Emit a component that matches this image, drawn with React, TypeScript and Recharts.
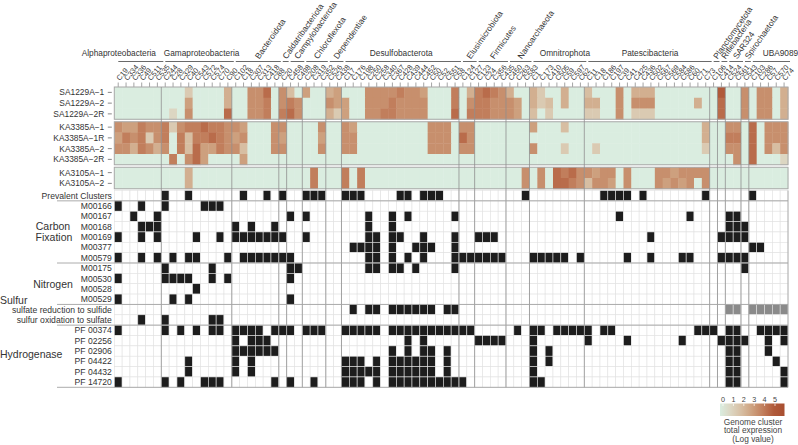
import { ScatterChart, Scatter, XAxis, YAxis } from 'recharts';

// ---- data ----
const clusters = [
  'C19', 'C334', 'C336', 'C49', 'C511', 'C535',
  'C244', 'C28', 'C329', 'C40', 'C543', 'C572', 'C574', 'C70', 'C90',
  'C102', 'C18', 'C307', 'C313', 'C418', 'C88',
  'C20',
  'C458', 'C498',
  'C208', 'C319', 'C352',
  'C526', 'C438',
  'C17', 'C176', 'C198', 'C250', 'C258', 'C340', 'C367', 'C428', 'C439', 'C444', 'C452', 'C50', 'C52', 'C551', 'C58',
  'C124', 'C127',
  'C123', 'C24', 'C356', 'C435',
  'C450', 'C263', 'C583',
  'C1', 'C173', 'C410', 'C505', 'C59', 'C597', 'C62',
  'C11', 'C18', 'C186', 'C197', 'C39', 'C41', 'C425', 'C436', 'C502', 'C567', 'C569', 'C584', 'C586', 'C60', 'C71', 'C73',
  'C106', 'C414', 'C524', 'C561', 'C543', 'C103', 'C286', 'C57', 'C570', 'C74',
];

const phyla = [
  'Alphaproteobacteria', 'Gamaproteobacteria', 'Bacteroidota', 'Caldatribacteriota', 'Campylobacterota',
  'Chloroflexota', 'Dependentiae', 'Desulfobacterota', 'Elusimicrobiota', 'Firmicutes', 'Nanoarchaeota',
  'Omnitrophota', 'Patescibacteria', 'Planctomycetota', 'Riflebacteria', 'SAR324', 'Spirochaetota', 'UBA9089',
];
const phylumSizes = [6, 9, 6, 1, 2, 3, 2, 15, 2, 4, 3, 7, 16, 1, 1, 2, 1, 5];

const heatRows = ['SA1229A−1', 'SA1229A−2', 'SA1229A−2R', 'KA3385A−1', 'KA3385A−1R', 'KA3385A−2', 'KA3385A−2R', 'KA3105A−1', 'KA3105A−2'];
const heatBlocks = [3, 4, 2];

// log expression, one value per cluster
const sa1229a1 = [0,0,0,0,0,0, 0,0,0,1.5,0,0,0,0,2.5, 0,0,3.5,3.5,4.5,0, 3.5, 2,0, 3,0,0, 2.5,3, 0,0,0,3.5,3.5,3.5,3.5,4,3.5,3.5,3,0,0,0,4, 0,2.5, 4,4.5,4,3.5, 2.5,0,0, 2.5,1.5,0,0,2.5,0,0, 2,0,0,0,3.5,0,2.5,2.5,2.5,0,0,0,0,0,0,0, 0,5,0,0,3.5, 0,3.5,3.5,0,2.5];
const sa1229a2 = [0,0,0,0,0,0, 0,0,0,3,0,0,0,0,2.5, 0,0,3.5,3.5,4,0, 3.5, 4,3.5, 0,0,0, 3.5,3, 3,0,0,3.5,3.5,3.5,4,3.5,3.5,3.5,3.5,0,0,0,4, 0,3.5, 4,4,3.5,3.5, 3.5,3,0, 2.5,1.5,2,0,2.5,0,0, 2.5,2.5,0,0,3.5,0,3.5,3.5,3.5,0,0,0,0,0,2.5,0, 0,4.5,0,0,3.5, 0,3.5,3.5,0,2.5];
const sa1229a2r = [0,0,0,0,0,0, 0,1,0,3.5,0,0,0,0,4.5, 0,0,3.5,3.5,4,0, 4, 4.5,3.5, 0,0,0, 2.5,1.5, 3,0,0,3.5,3.5,4,4,3.5,3.5,3.5,3.5,0,0,0,4.5, 0,4, 4,4,3.5,3.5, 3.5,3,0, 2,0,1.5,0,0,0,0, 1.5,1.5,0,0,3.5,0,1.5,1.5,1.5,0,0,0,0,0,0,0, 0,4.5,0,0,3.5, 0,3.5,3.5,0,2.5];
const ka3385a1 = [3.5,3,3,4,3.5,3.5, 4,1.5,3.5,4,4,4.5,4,4,3.5, 3.5,3,0,0,0,3.5, 3.5, 0,0, 0,0,3.5, 0,0, 3.5,3,0,0,0,0,0,0,0,0,0,3.5,3.5,3.5,0, 3.5,3.5, 0,0,0,0, 0,0,0, 3,0,0,0,2,0,0, 0,0,0,0,0,0,0,0,0,0,0,0,0,0,0,2.5, 0,0,3.5,3.5,0, 4.5,0,3.5,3.5,3.5];
const ka3385a1r = [3,4,3.5,4,1.5,3.5, 4,0,4,2,4,4,4.5,4,3.5, 3,3.5,0,0,0,3.5, 3, 0,0, 0,0,3, 0,0, 3.5,3.5,0,0,0,0,0,0,0,0,0,3.5,3.5,3.5,0, 4.5,3.5, 0,0,0,0, 0,0,0, 0,0,0,0,0,0,0, 0,0,0,0,0,0,0,0,0,0,0,0,0,0,0,2.5, 0,0,4,4,0, 4.5,0,3.5,3.5,3.5];
const ka3385a2 = [3.5,3.5,2.5,4,3.5,2.5, 3.5,0,4,2,4.5,3,3,4,3.5, 3.5,2,0,0,0,3.5, 3.5, 0,0, 0,0,3.5, 0,0, 3.5,3.5,0,0,0,0,0,0,0,0,0,3.5,3.5,3.5,0, 3.5,3.5, 0,0,0,0, 0,0,0, 3.5,0,0,0,1.5,0,0, 0,1.5,0,0,0,0,0,0,0,0,0,0,0,0,0,1.5, 0,0,3.5,3.5,0, 4.5,0,3.5,2,3.5];
const ka3385a2r = [0,0,0,0,0,0, 0,4,0,3.5,4.5,3,0,0,0, 0,3,0,0,0,0, 0, 0,0, 0,0,0, 0,0, 0,0,0,0,0,0,0,0,0,0,0,0,0,0,0, 0,0, 0,0,0,0, 0,0,0, 0,0,0,0,0,0,0, 0,0,0,0,0,0,0,0,0,0,0,0,0,0,0,0, 0,0,0,3.5,0, 4.5,0,0,0,1];
const ka3105a1 = [0,0,0,0,0,0, 0,0,0,2.5,0,0,0,0,0, 0,0,0,0,0,0, 0, 0,0, 0,4,0, 0,0, 4,0,4,0,0,0,0,0,0,0,0,0,0,0,0, 0,0, 0,0,0,0, 0,0,3.5, 0,3.5,0,4.5,4,4.5,3.5, 3.5,3,3.5,3.5,0,3.5,0,0,0,3.5,3.5,3,3.5,3.5,3.5,3.5, 0,0,0,0,0, 0,0,0,0,0];
const ka3105a2 = [0,0,0,0,0,0, 0,0,0,2.5,0,0,0,0,0, 0,0,0,0,0,0, 0, 0,0, 0,4,0, 0,0, 4,0,4,0,0,0,0,0,0,0,0,0,0,0,0, 0,0, 0,0,0,0, 0,0,3.5, 0,3.5,0,4.5,4.5,4,3.5, 2,3.5,3.5,3,0,3.5,0,0,0,3.5,3,3.5,3,3.5,0,3.5, 0,0,0,0,0, 0,0,0,0,0];
const heatValues = [sa1229a1, sa1229a2, sa1229a2r, ka3385a1, ka3385a1r, ka3385a2, ka3385a2r, ka3105a1, ka3105a2];

const binRows = [
  'Prevalent Clusters', 'M00166', 'M00167', 'M00168', 'M00169', 'M00377', 'M00579',
  'M00175', 'M00530', 'M00528', 'M00529',
  'sulfate reduction to sulfide', 'sulfur oxidation to sulfate',
  'PF 00374', 'PF 02256', 'PF 02906', 'PF 04422', 'PF 04432', 'PF 14720',
];
// clusters carrying each module / gene family (column indices)
const prevalent = [6, 9, 16, 19, 21, 24, 25, 26, 29, 30, 31, 36, 37, 39, 40, 41, 52, 62, 63, 64, 65, 67, 75, 81];
const m00166 = [0, 3, 6, 11, 12, 13];
const m00167 = [2, 5, 22, 24, 32, 35, 37, 43, 64, 73, 78, 79];
const m00168 = [3, 4, 5, 15, 17, 20, 32, 35, 78, 79, 80];
const m00169 = [0, 3, 5, 10, 13, 15, 16, 17, 18, 19, 20, 21, 24, 32, 33, 35, 36, 39, 43, 46, 47, 48, 68, 77, 78, 79, 80];
const m00377 = [30, 31, 32, 33, 35, 38, 39, 40, 43, 81, 82];
const m00579 = [0, 3, 5, 7, 9, 10, 14, 16, 17, 18, 19, 20, 21, 22, 32, 33, 35, 37, 39, 43, 44, 45, 46, 47, 48, 49, 53, 54, 55, 56, 57, 59, 65, 68, 72, 73, 77, 78, 79, 80];
const m00175 = [6, 12, 22, 23, 32, 33, 35, 36, 38, 43, 80];
const m00530 = [0, 6, 7, 8, 9, 12, 14, 22];
const m00528 = [10];
const m00529 = [0, 7, 9, 22];
const sulfRed = [30, 32, 33, 35, 36, 37, 38, 39, 40, 42, 43];
const sulfRedPartial = [78, 79, 81, 82, 83, 84, 85];
const sulfOx = [3, 6, 12, 13];
const pf00374 = [0, 6, 8, 10, 12, 13, 15, 16, 17, 18, 20, 21, 22, 24, 25, 26, 29, 30, 31, 32, 33, 35, 36, 37, 38, 39, 40, 41, 42, 43, 44, 45, 51, 53, 54, 56, 57, 58, 59, 60, 62, 63, 74, 75, 76, 78, 79, 82, 83, 84, 85];
const pf02256 = [15, 17, 18, 19, 37, 39, 46, 47, 48, 49, 53, 60, 65, 72, 77, 78, 79, 80, 83, 85];
const pf02906 = [15, 16, 17, 18, 19, 20, 35, 37, 39, 40, 42, 53, 55, 78, 79, 83];
const pf04422 = [9, 15, 17, 29, 30, 31, 33, 35, 36, 37, 38, 39, 40, 42, 53, 55, 78, 79, 84];
const pf04432 = [9, 15, 17, 29, 30, 31, 32, 33, 35, 36, 37, 38, 39, 40, 42, 53, 78, 79, 85];
const pf14720 = [0, 6, 8, 11, 12, 13, 20, 22, 25, 29, 30, 31, 33, 35, 36, 37, 38, 39, 40, 41, 42, 43, 44, 53, 54, 78, 79, 85];
const binValues = [prevalent, m00166, m00167, m00168, m00169, m00377, m00579, m00175, m00530, m00528, m00529, sulfRed, sulfOx, pf00374, pf02256, pf02906, pf04422, pf04432, pf14720];

const legendTicks = [0, 1, 2, 3, 4, 5];

// ---- layout ----
const W = 798;
const H = 445;
const GRID_L = 114.3;
const GRID_R = 788;
const GRID_T = 87;
const GRID_B = 387.3;
const NCOL = clusters.length;
const CW = (GRID_R - GRID_L) / NCOL;
const HEAT_RH = 10.75;
const HEAT_GAP = 2.5;
const BIN_TOP = 190.5;
const BIN_RH = (GRID_B - BIN_TOP) / binRows.length;
const HEAT_DOMAIN = (GRID_B - GRID_T) / HEAT_RH;
const BIN_DOMAIN = (GRID_B - GRID_T) / BIN_RH;
const BIN_START = (BIN_TOP - GRID_T) / BIN_RH;
const FONT = '"Liberation Sans", Arial, Helvetica, sans-serif';
const TXT = '#333';

const blockOf = (r: number) => {
  let acc = 0;
  for (let b = 0; b < heatBlocks.length; b++) {
    acc += heatBlocks[b];
    if (r < acc) return b;
  }
  return heatBlocks.length - 1;
};
const heatTop = (r: number) => r + (blockOf(r) * HEAT_GAP) / HEAT_RH;

const STOPS: [number, number[]][] = [
  [0, [218, 237, 224]],
  [1, [220, 214, 194]],
  [2, [215, 190, 162]],
  [3, [205, 160, 126]],
  [4, [193, 126, 92]],
  [5, [176, 90, 58]],
  [6, [168, 78, 48]],
];
const heatColor = (v: number) => {
  if (v <= 0) return 'rgb(218,237,224)';
  for (let i = 1; i < STOPS.length; i++) {
    if (v <= STOPS[i][0]) {
      const [a, ca] = STOPS[i - 1];
      const [b, cb] = STOPS[i];
      const t = (v - a) / (b - a);
      const c = ca.map((x, k) => Math.round(x + (cb[k] - x) * t));
      return `rgb(${c[0]},${c[1]},${c[2]})`;
    }
  }
  return 'rgb(168,78,48)';
};

const heatCells = heatValues.flatMap((row, r) =>
  row.map((v, c) => ({ x: c + 0.5, y: heatTop(r) + 0.5, v })),
);
const binCells = binValues.flatMap((cols, r) =>
  clusters.map((_, c) => ({
    x: c + 0.5,
    y: BIN_START + r + 0.5,
    v: cols.includes(c) ? 2 : r === 11 && sulfRedPartial.includes(c) ? 1 : 0,
  })),
);

const groupStarts = phylumSizes.map((_, i) => phylumSizes.slice(0, i).reduce((a, b) => a + b, 0));
const boundaries = groupStarts.slice(1);
const flatPhyla = ['Alphaproteobacteria', 'Gamaproteobacteria', 'Desulfobacterota', 'Omnitrophota', 'Patescibacteria', 'UBA9089'];
const flatShift: Record<string, number> = {
  Alphaproteobacteria: -19, Gamaproteobacteria: 5, Desulfobacterota: 1, Omnitrophota: 8, Patescibacteria: 3, UBA9089: 12,
};

const HeatCell = (p: any) => (
  <rect x={p.cx - CW / 2} y={p.cy - HEAT_RH / 2} width={CW + 0.4} height={HEAT_RH + 0.4} fill={heatColor(p.payload.v)} />
);
const BinCell = (p: any) => (
  <rect
    x={p.cx - CW / 2}
    y={p.cy - BIN_RH / 2}
    width={CW}
    height={BIN_RH}
    fill={p.payload.v === 2 ? '#1d1d1d' : p.payload.v === 1 ? '#8a8a8a' : '#ffffff'}
    stroke="#e2e2e2"
    strokeWidth={0.6}
  />
);

const ClusterTick = (p: any) => {
  const { x, index } = p;
  const g = groupStarts.indexOf(index);
  const ty = GRID_T - 6;
  let header = null;
  if (g >= 0) {
    const name = phyla[g];
    const left = x - CW / 2;
    const span = phylumSizes[g] * CW;
    const flat = flatPhyla.includes(name);
    const ly = 61.5;
    header = (
      <g>
        <line x1={left + 4} x2={left + span + 2} y1={ly} y2={ly} stroke="#444" strokeWidth={0.8} />
        {flat ? (
          <text x={left + span / 2 + flatShift[name]} y={ly - 6} textAnchor="middle" fontSize={8.3} fill={TXT} fontFamily={FONT}>
            {name}
          </text>
        ) : (
          <text
            x={left + span / 2 + 4}
            y={ly - 2}
            transform={`rotate(-55 ${left + span / 2 + 4} ${ly - 2})`}
            fontSize={8.3}
            fill={TXT}
            fontFamily={FONT}
          >
            {name}
          </text>
        )}
      </g>
    );
  }
  return (
    <g>
      <line x1={x} x2={x} y1={GRID_T - 4.5} y2={GRID_T} stroke="#666" strokeWidth={0.6} />
      <text x={x + 1.5} y={ty} transform={`rotate(-50 ${x + 1.5} ${ty})`} fontSize={7.4} fill={TXT} fontFamily={FONT}>
        {clusters[index]}
      </text>
      {header}
    </g>
  );
};

const HeatTick = (p: any) => (
  <g>
    <text x={GRID_L - 10} y={p.y} dy={3} textAnchor="end" fontSize={8.4} fill={TXT} fontFamily={FONT}>
      {heatRows[p.index]}
    </text>
    <line x1={GRID_L - 6.5} x2={GRID_L - 2.5} y1={p.y} y2={p.y} stroke="#555" strokeWidth={0.7} />
  </g>
);
const BinTick = (p: any) => (
  <text x={GRID_L - 2.5} y={p.y} dy={3} textAnchor="end" fontSize={8.6} fill={TXT} fontFamily={FONT}>
    {binRows[p.index]}
  </text>
);

const separators = [1, 7, 11, 13, 19];

export default function App() {
  const heatTicks = heatRows.map((_, r) => heatTop(r) + 0.5);
  const binTicks = binRows.map((_, r) => BIN_START + r + 0.5);
  return (
    <div style={{ position: 'absolute', left: 0, top: 0, width: W, height: H, background: '#fff', fontFamily: FONT }}>
      <ScatterChart width={W} height={H} margin={{ top: GRID_T - 20, left: GRID_L - 2, right: W - GRID_R, bottom: H - GRID_B }}>
        <XAxis
          type="number"
          dataKey="x"
          orientation="top"
          height={20}
          domain={[0, NCOL]}
          ticks={clusters.map((_, i) => i + 0.5)}
          interval={0}
          tick={<ClusterTick />}
          tickLine={false}
          axisLine={false}
        />
        <YAxis
          yAxisId="heat"
          type="number"
          dataKey="y"
          domain={[0, HEAT_DOMAIN]}
          reversed
          width={1}
          ticks={heatTicks}
          interval={0}
          tick={<HeatTick />}
          tickLine={false}
          axisLine={false}
        />
        <YAxis
          yAxisId="bin"
          type="number"
          dataKey="y"
          domain={[0, BIN_DOMAIN]}
          reversed
          width={1}
          ticks={binTicks}
          interval={0}
          tick={<BinTick />}
          tickLine={false}
          axisLine={false}
        />
        <Scatter yAxisId="heat" data={heatCells} shape={<HeatCell />} isAnimationActive={false} />
        <Scatter yAxisId="bin" data={binCells} shape={<BinCell />} isAnimationActive={false} />
      </ScatterChart>
      <svg width={W} height={H} style={{ position: 'absolute', left: 0, top: 0, pointerEvents: 'none' }}>
        {heatBlocks.map((n, b) => {
          const r0 = heatBlocks.slice(0, b).reduce((a, c) => a + c, 0);
          const y0 = GRID_T + heatTop(r0) * HEAT_RH;
          return (
            <rect key={b} x={GRID_L} y={y0} width={GRID_R - GRID_L} height={n * HEAT_RH} fill="none" stroke="#a8a8a8" strokeWidth={1} />
          );
        })}
        {boundaries.map((b) => (
          <line key={b} x1={GRID_L + b * CW} x2={GRID_L + b * CW} y1={GRID_T} y2={GRID_B} stroke="#8f8f8f" strokeWidth={0.8} />
        ))}
        <line x1={GRID_R} x2={GRID_R} y1={BIN_TOP} y2={GRID_B} stroke="#a0a0a0" strokeWidth={0.8} />
        {separators.map((k) => (
          <line key={k} x1={57} x2={GRID_R} y1={BIN_TOP + k * BIN_RH} y2={BIN_TOP + k * BIN_RH} stroke="#a3a3a3" strokeWidth={0.9} />
        ))}
        <g fontFamily={FONT} fontSize={10.5} fill={TXT} textAnchor="middle">
          <text x={53} y={229.5}>Carbon</text>
          <text x={54} y={241}>Fixation</text>
          <text x={53} y={287.5}>Nitrogen</text>
          <text x={0} y={304} textAnchor="start">Sulfur</text>
          <text x={0} y={358} textAnchor="start">Hydrogenase</text>
        </g>
        <defs>
          <linearGradient id="expr" x1="0" x2="1" y1="0" y2="0">
            {STOPS.map(([v, c]) => (
              <stop key={v} offset={`${(v / 6) * 100}%`} stopColor={`rgb(${c[0]},${c[1]},${c[2]})`} />
            ))}
          </linearGradient>
        </defs>
        <rect x={720} y={403.5} width={64.5} height={12.5} fill="url(#expr)" />
        {legendTicks.map((t) => (
          <g key={t}>
            <text x={723 + t * 10.4} y={402} textAnchor="middle" fontSize={7.2} fill="#444" fontFamily={FONT}>
              {t}
            </text>
            <line x1={723 + t * 10.4} x2={723 + t * 10.4} y1={403.5} y2={406} stroke="#fff" strokeWidth={0.7} />
          </g>
        ))}
        <g fontFamily={FONT} fontSize={8.3} fill="#444" textAnchor="middle">
          <text x={753} y={424.5}>Genome cluster</text>
          <text x={753} y={433}>total expression</text>
          <text x={753} y={441.5}>(Log value)</text>
        </g>
      </svg>
    </div>
  );
}
